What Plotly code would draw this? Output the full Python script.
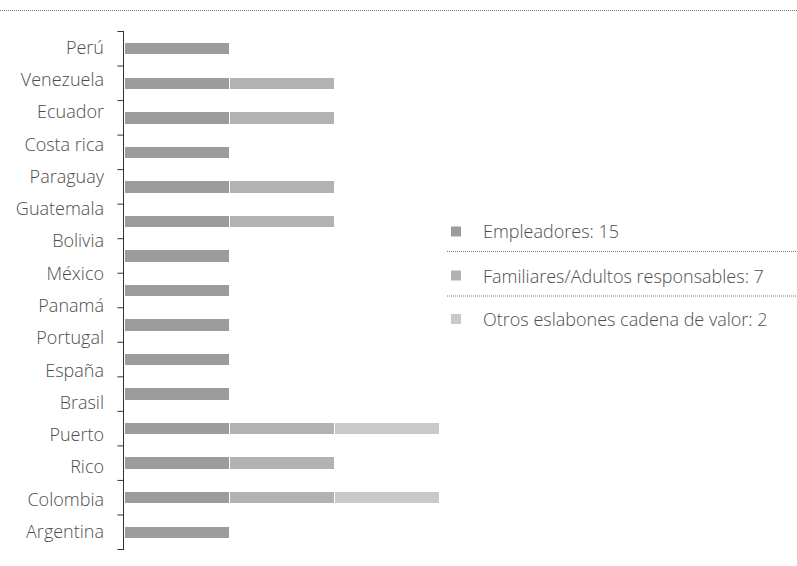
import plotly.graph_objects as go

# Data rows (15 bars)
countries = ["Perú", "Venezuela", "Ecuador", "Costa rica", "Paraguay", "Guatemala",
             "Bolivia", "México", "Panamá", "Portugal", "España", "Brasil",
             "Puerto Rico", "Colombia", "Argentina"]
empleadores = [1, 1, 1, 1, 1, 1, 1, 1, 1, 1, 1, 1, 1, 1, 1]
familiares = [0, 1, 1, 0, 1, 1, 0, 0, 0, 0, 0, 1, 1, 1, 0]
otros = [0, 0, 0, 0, 0, 0, 0, 0, 0, 0, 0, 1, 0, 1, 0]
# Axis label lines as printed (16 lines)
tick_labels = ["Perú", "Venezuela", "Ecuador", "Costa rica", "Paraguay", "Guatemala",
               "Bolivia", "México", "Panamá", "Portugal", "España", "Brasil",
               "Puerto", "Rico", "Colombia", "Argentina"]
series_names = ["Empleadores", "Familiares/Adultos responsables", "Otros eslabones cadena de valor"]
series_totals = [15, 7, 2]
colors = ["#9c9c9e", "#b2b2b4", "#c9c9cb"]

W, H = 797, 566
ML, MR, MT, MB = 124, 0, 31, 16
PW, PH = W - ML - MR, H - MT - MB
UNIT_PX = 105.0

def px(x):
    return (x - ML) / PW

def py(y):
    return (H - MB - y) / PH

fig = go.Figure()
for name, vals, col in zip(series_names, [empleadores, familiares, otros], colors):
    fig.add_trace(go.Bar(
        y=countries, x=vals, name=name, orientation="h",
        marker=dict(color=col, line=dict(color="white", width=1)),
        showlegend=False, hoverinfo="skip"))

# invisible trace carrying the printed label lines
fig.add_trace(go.Scatter(
    y=tick_labels, x=[0] * len(tick_labels), yaxis="y2", mode="markers",
    marker=dict(opacity=0), showlegend=False, hoverinfo="skip"))

font = dict(family="Open Sans", size=18, color="#4d4d4d", weight=300)

# label axis: first and last label aligned with first and last bar
n_bars, n_labels = len(countries), len(tick_labels)
slot = PH / n_bars
lab_step = (PH - slot) / (n_labels - 1)
off = 0.5 * slot / lab_step

fig.update_layout(
    width=W, height=H, barmode="stack", bargap=0.64,
    margin=dict(l=ML, r=MR, t=MT, b=MB, pad=0),
    plot_bgcolor="white", paper_bgcolor="white",
    font=font,
    xaxis=dict(range=[0, PW / UNIT_PX], visible=False),
    yaxis=dict(categoryorder="array", categoryarray=countries, autorange="reversed",
               showline=True, linecolor="#333333", linewidth=1,
               ticks="", showticklabels=False, showgrid=False, zeroline=False),
    yaxis2=dict(overlaying="y", anchor="x", side="left", type="category",
                categoryorder="array", categoryarray=tick_labels,
                range=[n_labels - 1 + off + 0.03, -off + 0.03],
                ticks="", ticklabelstandoff=19, showgrid=False, zeroline=False,
                showline=False, tickfont=font),
)

shapes = []
# category boundary ticks on the bar axis
for i in range(n_bars + 1):
    shapes.append(dict(type="line", xref="paper", yref="y", x0=px(117.5), x1=px(123.5),
                       y0=i - 0.5, y1=i - 0.5, line=dict(color="#333333", width=1)))
# top dotted line
shapes.append(dict(type="line", xref="paper", yref="paper", x0=px(0), x1=px(W),
                   y0=py(10.5), y1=py(10.5), line=dict(color="#777777", width=1, dash="1px,1px")))
leg_y = [231.5, 275.5, 319]
sep_y = [251.5, 296]
for i, (name, tot, col) in enumerate(zip(series_names, series_totals, colors)):
    y = leg_y[i]
    shapes.append(dict(type="rect", xref="paper", yref="paper",
                       x0=px(451), x1=px(461), y0=py(y - 5), y1=py(y + 5),
                       fillcolor=col, line=dict(width=0)))
    fig.add_annotation(xref="paper", yref="paper", x=px(481), y=py(y),
                       text=f"{name}: {tot}", showarrow=False, xanchor="left",
                       yanchor="middle", font=font)
for y in sep_y:
    shapes.append(dict(type="line", xref="paper", yref="paper", x0=px(447), x1=px(W),
                       y0=py(y), y1=py(y),
                       line=dict(color="#777777", width=1, dash="1px,1px")))
fig.update_layout(shapes=shapes)

fig.write_html("out.html")
